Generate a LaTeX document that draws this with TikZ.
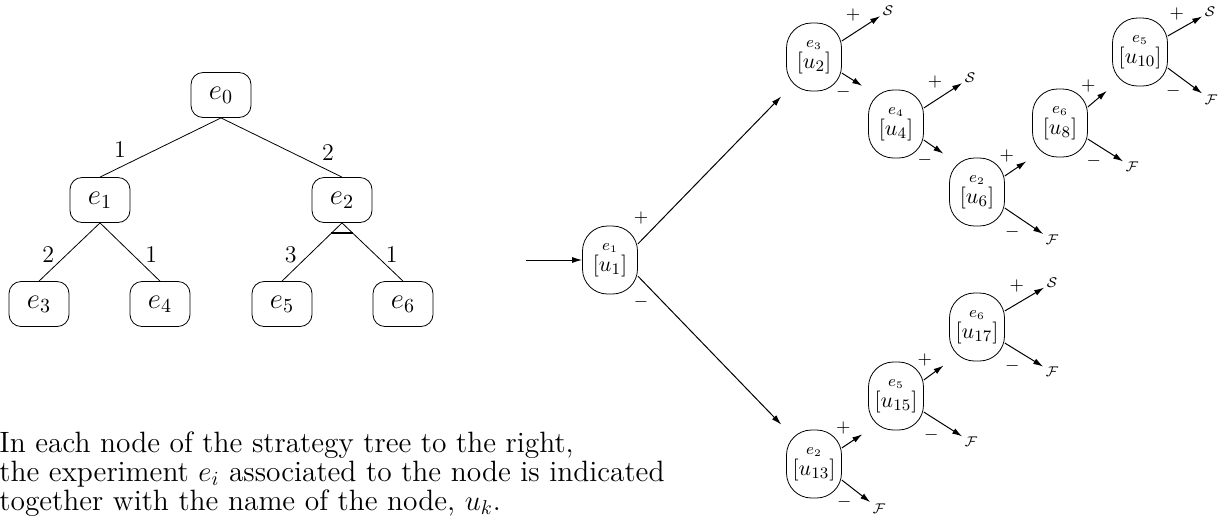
\documentclass[tikz,border=0pt]{standalone}
\usetikzlibrary{arrows.meta,calc}
\begin{document}
\begin{tikzpicture}[x=0.5pt,y=-0.5pt,
    tnode/.style={draw=black,rounded corners=6pt,minimum width=30pt,minimum height=22.5pt,inner sep=1pt,font=\Large},
    snode/.style={draw=black,rounded corners=12.5pt,minimum width=27.5pt,minimum height=34pt,inner sep=0pt,align=center,font=\fontsize{11}{13.6}\selectfont},
    leaf/.style={inner sep=1pt,font=\scriptsize},
    arr/.style={-{Latex[length=5pt,width=3pt]},line width=0.5pt},
    inarr/.style={arr,shorten >=3.5pt},
    sgn/.style={inner sep=2pt,font=\small},
    num/.style={inner sep=2pt,font=\large}]
    \useasboundingbox (0,0) rectangle (1230,521);

    % the experiment tree
    \node[tnode] (e0) at (221,95) {$e_0$};
    \node[tnode] (e1) at (100,200) {$e_1$};
    \node[tnode] (e2) at (342,200) {$e_2$};
    \node[tnode] (e3) at (39,304) {$e_3$};
    \node[tnode] (e4) at (160,304) {$e_4$};
    \node[tnode] (e5) at (282,304) {$e_5$};
    \node[tnode] (e6) at (403,304) {$e_6$};

    \path (e0.south) edge node[num,pos=.75,above left] {1} (e1.north);
    \path (e0.south) edge node[num,pos=.8,above right] {2} (e2.north);
    \path (e1.south) edge node[num,pos=.55,left=4pt] {2} (e3.north);
    \path (e1.south) edge node[num,pos=.55,right=4pt] {1} (e4.north);
    \path (e2.south) edge node[num,pos=.55,left=4pt] {3} (e5.north);
    \path (e2.south) edge node[num,pos=.55,right=3pt] {1} (e6.north);
    \draw[line width=1pt] ($(e2.south)!.18!(e5.north)$) -- ($(e2.south)!.18!(e6.north)$);

    \node[anchor=north west,align=left,inner sep=0pt,font=\fontsize{14.7}{14.5}\selectfont] (note) at (-1,431)
        {In each node of the strategy tree to the right,\\
         the experiment $e_i$ associated to the node is indicated\\
         together with the name of the node, $u_k$.};

    % the strategy tree
    \coordinate (start) at (526,260);
    \node[snode] (u1) at (610,260) {$\scriptstyle e_1$\\[-3pt]$[u_1]$};
    \node[snode] (u2) at (814,57) {$\scriptstyle e_3$\\[-3pt]$[u_2]$};
    \node[snode] (u4) at (896,124) {$\scriptstyle e_4$\\[-3pt]$[u_4]$};
    \node[snode] (u6) at (977,192) {$\scriptstyle e_2$\\[-3pt]$[u_6]$};
    \node[snode] (u8) at (1060,123) {$\scriptstyle e_6$\\[-3pt]$[u_8]$};
    \node[snode] (u10) at (1140,52) {$\scriptstyle e_5$\\[-3pt]$[u_{10}]$};
    \node[snode] (u13) at (814,464) {$\scriptstyle e_2$\\[-3pt]$[u_{13}]$};
    \node[snode] (u15) at (896,396) {$\scriptstyle e_5$\\[-3pt]$[u_{15}]$};
    \node[snode] (u17) at (977,327) {$\scriptstyle e_6$\\[-3pt]$[u_{17}]$};

    \node[leaf] (s1) at (888,11) {$\mathcal{S}$};
    \node[leaf] (s2) at (970,78) {$\mathcal{S}$};
    \node[leaf] (s3) at (1210,12) {$\mathcal{S}$};
    \node[leaf] (s4) at (1052,283) {$\mathcal{S}$};
    \node[leaf] (f1) at (1052,240) {$\mathcal{F}$};
    \node[leaf] (f2) at (1132,167) {$\mathcal{F}$};
    \node[leaf] (f3) at (1211,100) {$\mathcal{F}$};
    \node[leaf] (f4) at (879,509) {$\mathcal{F}$};
    \node[leaf] (f5) at (971,442) {$\mathcal{F}$};
    \node[leaf] (f6) at (1052,372) {$\mathcal{F}$};

    \path (start) edge[arr] (u1);
    \path (u1.30) edge[inarr] node[sgn,pos=.1,above left] {$+$} (u2.south west);
    \path (u1.-30) edge[inarr] node[sgn,pos=.1,below left] {$-$} (u13.north west);

    \path (u2.30) edge[arr] node[sgn,pos=.6,above left] {$+$} (s1);
    \path (u2.-30) edge[inarr] node[sgn,midway,below left] {$-$} (u4.north west);
    \path (u4.30) edge[arr] node[sgn,pos=.6,above left] {$+$} (s2);
    \path (u4.-30) edge[inarr] node[sgn,midway,below left] {$-$} (u6.north west);
    \path (u6.30) edge[inarr] node[sgn,midway,above left] {$+$} (u8.south west);
    \path (u6.-30) edge[arr] node[sgn,midway,below left] {$-$} (f1);
    \path (u8.30) edge[inarr] node[sgn,midway,above left] {$+$} (u10.south west);
    \path (u8.-30) edge[arr] node[sgn,midway,below left] {$-$} (f2);
    \path (u10.30) edge[arr] node[sgn,pos=.6,above left] {$+$} (s3);
    \path (u10.-30) edge[arr] node[sgn,midway,below left] {$-$} (f3);

    \path (u13.30) edge[inarr] node[sgn,midway,above left] {$+$} (u15.south west);
    \path (u13.-30) edge[arr] node[sgn,midway,below left] {$-$} (f4);
    \path (u15.30) edge[inarr] node[sgn,midway,above left] {$+$} (u17.south west);
    \path (u15.-30) edge[arr] node[sgn,midway,below left] {$-$} (f5);
    \path (u17.30) edge[arr] node[sgn,pos=.6,above left] {$+$} (s4);
    \path (u17.-30) edge[arr] node[sgn,midway,below left] {$-$} (f6);
\end{tikzpicture}
\end{document}
